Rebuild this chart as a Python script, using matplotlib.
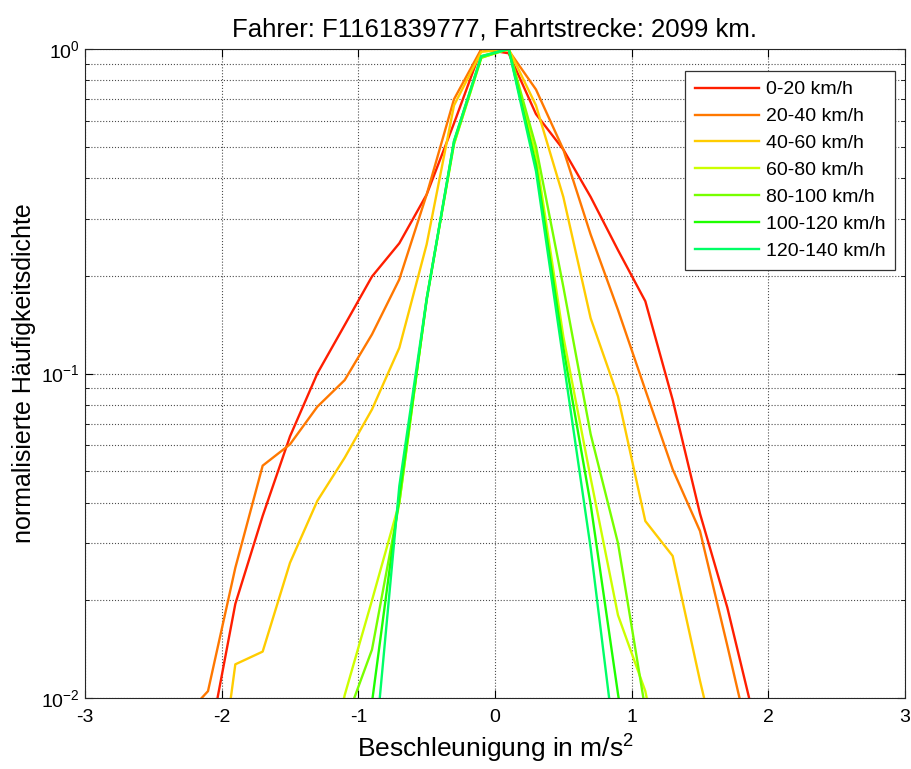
import numpy as np
import matplotlib
matplotlib.use('Agg')
import matplotlib.pyplot as plt
from matplotlib.ticker import LogLocator, NullFormatter

plt.rcParams.update({
    'font.family': ['Liberation Sans', 'DejaVu Sans'],
    'mathtext.default': 'regular',
    'axes.unicode_minus': False,
    'xtick.direction': 'in', 'ytick.direction': 'in',
    'xtick.top': True, 'ytick.right': True,
})

# ─── Data ────────────────────────────────────────────────────────────────────
acc = [-2.3, -2.1, -1.9, -1.7, -1.5, -1.3, -1.1, -0.9, -0.7, -0.5, -0.3, -0.1,
       0.1, 0.3, 0.5, 0.7, 0.9, 1.1, 1.3, 1.5, 1.7, 1.9, 2.1]
nan = np.nan

v0_20 = [nan, 0.007, 0.0195, 0.0364, 0.064, 0.10, 0.141, 0.199, 0.252, 0.356, 0.59, 1.0,
         0.97, 0.63, 0.49, 0.35, 0.24, 0.167, 0.083, 0.037, 0.019, 0.0085, nan]
v20_40 = [0.0085, 0.0105, 0.0252, 0.052, 0.0605, 0.079, 0.0954, 0.132, 0.195, 0.356, 0.70, 1.0,
          0.99, 0.75, 0.49, 0.268, 0.157, 0.089, 0.0507, 0.0327, 0.0145, 0.0063, nan]
v40_60 = [nan, 0.003, 0.0127, 0.0139, 0.0261, 0.0405, 0.055, 0.0775, 0.12, 0.25, 0.67, 0.98,
          1.0, 0.67, 0.35, 0.148, 0.085, 0.0351, 0.0274, 0.0113, 0.005, nan, nan]
v60_80 = [nan, nan, nan, nan, nan, 0.004, 0.0102, 0.02, 0.04, 0.17, 0.51, 0.94,
          1.0, 0.47, 0.13, 0.0476, 0.018, 0.0105, 0.004, nan, nan, nan, nan]
v80_100 = [nan, nan, nan, nan, nan, nan, 0.0083, 0.0141, 0.040, 0.17, 0.51, 0.94,
           1.0, 0.50, 0.185, 0.065, 0.030, 0.0092, nan, nan, nan, nan, nan]
v100_120 = [nan, nan, nan, nan, nan, nan, 0.003, 0.0097, 0.042, 0.168, 0.52, 0.95,
            1.0, 0.44, 0.12, 0.0395, 0.0103, 0.003, nan, nan, nan, nan, nan]
v120_140 = [nan, nan, nan, nan, nan, nan, nan, 0.0055, 0.045, 0.17, 0.52, 0.95,
            1.0, 0.42, 0.11, 0.029, 0.006, nan, nan, nan, nan, nan, nan]

labels = ['0-20 km/h', '20-40 km/h', '40-60 km/h', '60-80 km/h',
          '80-100 km/h', '100-120 km/h', '120-140 km/h']
series = [v0_20, v20_40, v40_60, v60_80, v80_100, v100_120, v120_140]
colors = ['#ff1e00', '#ff7800', '#ffcc00', '#ccff00', '#77ff00', '#1eff00', '#00ff66']

# ─── Plot ────────────────────────────────────────────────────────────────────
fig = plt.figure(figsize=(9.11, 7.69), dpi=100)
ax = fig.add_axes([0.0933, 0.0923, 0.9001, 0.8440])

for vals, lbl, col in zip(series, labels, colors):
    ax.semilogy(acc, vals, color=col, lw=1.7, label=lbl)

ax.set_xlim(-3, 3)
ax.set_ylim(1e-2, 1)
ax.set_xticks(range(-3, 4))
ax.yaxis.set_major_locator(LogLocator(base=10))
ax.yaxis.set_minor_locator(LogLocator(base=10, subs=np.arange(2, 10)))
ax.yaxis.set_minor_formatter(NullFormatter())

ax.grid(True, which='major', ls=':', color='0.3', lw=0.8)
ax.grid(True, which='minor', axis='y', ls=':', color='0.3', lw=0.8)
ax.tick_params(which='major', length=6, labelsize=14)
ax.tick_params(axis='x', pad=8)
ax.tick_params(axis='y', pad=4)
ax.tick_params(which='minor', length=3)
for sp in ax.spines.values():
    sp.set_color('0.15')

ax.set_title('Fahrer: F1161839777, Fahrtstrecke: 2099 km.', fontsize=18.5, pad=9)
ax.set_xlabel('Beschleunigung in m/s$^2$', fontsize=19, labelpad=5)
ax.set_ylabel('normalisierte Häufigkeitsdichte', fontsize=18)
ax.yaxis.set_label_coords(-0.06, 0.5)

leg = ax.legend(loc='upper right', bbox_to_anchor=(0.9878, 0.966), borderaxespad=0,
                fontsize=14, fancybox=False, framealpha=1, edgecolor='0.2',
                handlelength=3.3, handletextpad=0.35, labelspacing=0.48, borderpad=0.5)
leg.get_frame().set_linewidth(0.9)

fig.savefig('out.png', dpi=100)
